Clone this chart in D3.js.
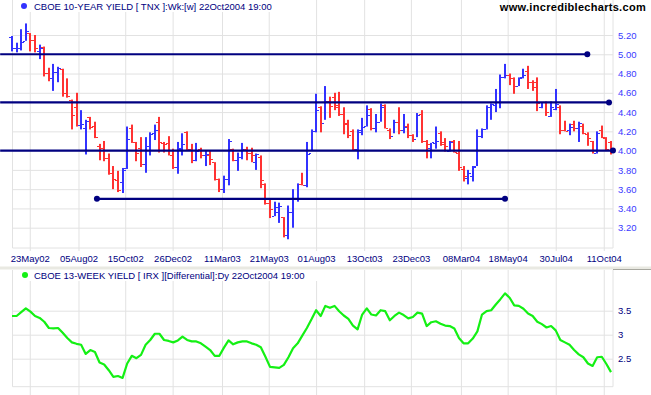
<!DOCTYPE html>
<html><head><meta charset="utf-8">
<script src="https://cdn.jsdelivr.net/npm/d3@7"></script>
<style>
body{margin:0;background:#fff}
svg{display:block}
text{font-family:"Liberation Sans",Arial,sans-serif}
</style>
</head><body>
<svg id="c" width="651" height="395"></svg>
<script>
// ---------- data ----------
const firstWeek = "2002-04-26";   // weekly bars, week ending Friday
const tickLabels = ["23May02","05Aug02","15Oct02","26Dec02","11Mar03","21May03","01Aug03","13Oct03","23Dec03","08Mar04","18May04","30Jul04","11Oct04"];
const tnxTicks = [3.2,3.4,3.6,3.8,4.0,4.2,4.4,4.6,4.8,5.0,5.2];
const irxTicks = [2.5,3,3.5];

const high = [5.19,5.12,5.26,5.32,5.22,5.20,5.10,5.08,4.86,4.90,
4.87,4.85,4.75,4.53,4.60,4.42,4.32,4.35,4.30,4.07,
4.10,3.97,3.84,3.79,3.82,4.25,4.27,4.09,4.14,4.14,
4.19,4.27,4.35,4.09,4.15,4.02,4.09,4.18,4.20,4.07,
4.08,4.03,4.00,4.00,3.88,3.71,3.74,4.12,4.02,3.98,
4.08,4.04,4.03,3.97,3.95,3.66,3.49,3.47,3.46,3.31,
3.43,3.60,3.66,3.77,4.09,4.22,4.59,4.46,4.67,4.56,
4.60,4.61,4.45,4.32,4.22,4.22,4.34,4.47,4.44,4.38,
4.49,4.48,4.23,4.32,4.45,4.38,4.28,4.17,4.39,4.42,
4.11,4.08,4.25,4.20,4.13,4.10,4.11,4.10,3.84,3.80,
3.84,4.22,4.23,4.47,4.49,4.64,4.79,4.90,4.80,4.76,
4.76,4.85,4.88,4.73,4.76,4.50,4.51,4.51,4.64,4.47,
4.31,4.28,4.31,4.30,4.28,4.19,4.10,4.20,4.26,4.14,4.10];
const low = [5.03,5.02,5.04,5.14,5.03,5.02,4.95,4.77,4.72,4.62,
4.71,4.56,4.55,4.22,4.25,4.22,3.96,4.22,4.13,3.90,
3.89,3.75,3.60,3.57,3.56,3.81,4.08,3.89,3.83,3.77,
3.95,4.11,3.98,3.98,3.95,3.81,3.76,3.95,4.00,3.87,
3.89,3.92,3.84,3.85,3.69,3.57,3.56,3.64,3.89,3.79,
3.91,3.90,3.88,3.80,3.61,3.44,3.30,3.32,3.25,3.10,
3.08,3.20,3.47,3.64,3.62,4.00,4.19,4.19,4.32,4.34,
4.42,4.36,4.17,4.13,4.00,3.91,4.16,4.25,4.21,4.19,
4.30,4.23,4.12,4.18,4.17,4.18,4.13,4.09,4.14,4.08,
3.92,3.92,4.02,4.05,3.99,3.99,3.98,3.79,3.68,3.65,
3.68,3.84,4.13,4.22,4.32,4.40,4.44,4.75,4.68,4.59,
4.67,4.75,4.64,4.62,4.41,4.44,4.36,4.35,4.42,4.17,
4.20,4.16,4.20,4.09,4.17,4.05,3.97,3.97,4.13,4.00,3.96];
const open = [5.18,5.06,5.07,5.14,5.22,5.15,5.03,5.08,4.81,4.75,
4.82,4.85,4.60,4.53,4.45,4.27,4.23,4.35,4.26,4.05,
4.03,3.92,3.77,3.69,3.67,3.82,4.23,4.09,4.03,3.86,
4.05,4.18,4.30,4.08,4.08,3.95,3.83,4.03,4.19,4.02,
3.90,4.02,3.95,3.95,3.88,3.71,3.60,3.71,4.02,3.90,
3.93,4.02,3.98,3.88,3.93,3.65,3.46,3.32,3.36,3.31,
3.12,3.36,3.51,3.65,3.64,3.98,4.20,4.45,4.29,4.52,
4.56,4.47,4.38,4.28,4.20,4.02,4.21,4.26,4.43,4.23,
4.30,4.47,4.21,4.15,4.30,4.21,4.26,4.16,4.12,4.38,
4.10,4.03,4.08,4.18,4.09,4.00,4.10,3.98,3.81,3.72,
3.74,3.84,4.15,4.22,4.45,4.47,4.50,4.76,4.78,4.75,
4.67,4.76,4.83,4.71,4.71,4.45,4.50,4.36,4.43,4.45,
4.21,4.21,4.28,4.23,4.26,4.17,4.10,3.98,4.21,4.13,4.09];
const close = [5.06,5.07,5.13,5.24,5.15,5.06,5.07,4.81,4.75,4.82,
4.86,4.60,4.57,4.37,4.27,4.28,4.31,4.24,4.14,4.03,
3.92,3.77,3.71,3.59,3.80,4.12,4.09,3.98,3.86,4.05,
4.17,4.21,4.09,4.07,3.95,3.83,4.02,4.07,4.02,3.90,
4.00,3.95,3.97,3.91,3.71,3.60,3.71,4.10,3.90,3.93,
4.02,3.98,3.95,3.97,3.69,3.46,3.39,3.41,3.43,3.12,
3.36,3.51,3.65,3.64,3.97,4.20,4.42,4.29,4.51,4.46,
4.45,4.38,4.29,4.16,4.02,4.19,4.24,4.37,4.23,4.30,
4.45,4.23,4.15,4.30,4.21,4.24,4.16,4.12,4.37,4.10,
4.07,4.09,4.10,4.07,4.05,4.09,3.99,3.83,3.74,3.77,
3.83,4.15,4.22,4.45,4.48,4.50,4.76,4.78,4.75,4.67,
4.75,4.79,4.71,4.66,4.49,4.50,4.40,4.45,4.48,4.21,
4.20,4.24,4.23,4.29,4.18,4.13,3.98,4.18,4.14,4.02,4.00];

const irx = [3.39,3.39,3.47,3.55,3.48,3.39,3.35,3.27,3.14,3.13,
3.14,3.04,2.93,2.84,2.81,2.79,2.60,2.68,2.64,2.42,
2.38,2.26,2.12,2.14,2.10,2.40,2.56,2.51,2.58,2.79,
2.89,3.02,3.02,2.89,2.87,2.84,2.88,2.96,2.89,2.86,
2.86,2.82,2.75,2.68,2.56,2.56,2.73,2.88,2.80,2.84,
2.86,2.86,2.82,2.79,2.74,2.54,2.33,2.32,2.31,2.37,
2.53,2.72,2.82,2.98,3.14,3.32,3.51,3.39,3.60,3.56,
3.60,3.49,3.40,3.33,3.19,3.11,3.42,3.55,3.42,3.40,
3.51,3.49,3.30,3.39,3.46,3.41,3.34,3.37,3.46,3.44,
3.18,3.26,3.28,3.23,3.19,3.18,3.13,2.93,2.82,2.82,
2.92,3.07,3.42,3.49,3.51,3.63,3.74,3.86,3.77,3.61,
3.60,3.54,3.44,3.39,3.27,3.22,3.15,3.18,3.09,2.89,
2.84,2.79,2.68,2.59,2.53,2.40,2.35,2.53,2.54,2.39,2.22];

// horizontal trend lines (support / resistance)
const levelValues = [5.00, 4.50, 4.00, 3.50];
const levelStart  = ["2002-04-08","2002-04-08","2002-04-08","2002-09-02"];
const levelEnd    = ["2004-09-16","2004-10-19","2004-10-25","2004-05-14"];
const levelStartDot = [false,false,false,true];

// ---------- drawing ----------
const svg = d3.select("#c");
const parseISO = d3.timeParse("%Y-%m-%d");
const parseTick = d3.timeParse("%d%b%y");
const d0 = parseISO(firstWeek);
const dates = d3.range(close.length).map(i => d3.timeDay.offset(d0, 7*i));
const tickDates = tickLabels.map(parseTick);

const L = 12.5, R = 613;
const x = d3.scaleTime().domain([dates[0], dates[dates.length-1]]).range([12, 611]);
const yT = d3.scaleLinear().domain([3.2, 5.2]).range([227.7, 35]);
const yB = d3.scaleLinear().domain([2.5, 3.5]).range([358.7, 310.7]);

const gridC = "#e2e2e2";
const navy = "#000080";
const upC = "#3232ff", dnC = "#ff3232";

// ---- top panel grid ----
const topBottom = 248;
svg.append("g").attr("transform", `translate(0,${topBottom+3})`)
  .call(d3.axisTop(x).tickValues(tickDates).tickFormat("").tickSizeInner(topBottom+3).tickSizeOuter(0))
  .call(g => g.select(".domain").remove())
  .call(g => g.selectAll("line").attr("stroke", gridC));
svg.append("g").attr("transform", `translate(${R},0)`)
  .call(d3.axisLeft(yT).tickValues(tnxTicks).tickFormat("").tickSizeInner(R-L).tickSizeOuter(0))
  .call(g => g.select(".domain").remove())
  .call(g => g.selectAll("line").attr("stroke", gridC));
// borders
svg.append("path").attr("d", `M${L},0V${topBottom}H${R}V0`).attr("fill","none").attr("stroke", gridC);

// y labels (top)
svg.append("g").attr("transform", `translate(${R},0)`)
  .call(d3.axisRight(yT).tickValues(tnxTicks).tickFormat(d3.format(".2f")).tickSize(0).tickPadding(5))
  .call(g => g.select(".domain").remove())
  .call(g => g.selectAll("text").attr("fill", "#3a3aff").style("font-size","9.5px").attr("dy","0.33em"));

// x labels
svg.append("g").attr("transform", `translate(0,${topBottom})`)
  .call(d3.axisBottom(x).tickValues(tickDates).tickFormat((d,i)=>tickLabels[i]).tickSize(0).tickPadding(7))
  .call(g => g.select(".domain").remove())
  .call(g => g.selectAll("text").attr("fill", navy).style("font-size","9.5px"));

// ---- bars ----
const bars = svg.append("g");
dates.forEach((d,i) => {
  const cx = Math.round(x(d));
  const col = (i === 0 ? close[i] < open[i] : close[i] >= close[i-1]) ? upC : dnC;
  const yh = yT(high[i]), yl = yT(low[i]);
  bars.append("rect").attr("x", cx-1).attr("y", yh).attr("width", 2).attr("height", Math.max(1, yl-yh)).attr("fill", col);
  bars.append("rect").attr("x", cx-3).attr("y", Math.round(yT(open[i]))).attr("width", 2).attr("height", 1).attr("fill", col);
  bars.append("rect").attr("x", cx+1).attr("y", Math.round(yT(close[i]))).attr("width", 2).attr("height", 1).attr("fill", col);
});

// ---- trend lines ----
const tl = svg.append("g");
levelValues.forEach((v,i) => {
  const xs = x(parseISO(levelStart[i])), xe = x(parseISO(levelEnd[i])), yy = yT(v);
  tl.append("line").attr("x1", xs).attr("x2", xe).attr("y1", yy).attr("y2", yy)
    .attr("stroke", navy).attr("stroke-width", 2.2);
  tl.append("circle").attr("cx", xe).attr("cy", yy).attr("r", 3).attr("fill", navy);
  if (levelStartDot[i]) tl.append("circle").attr("cx", xs).attr("cy", yy).attr("r", 3).attr("fill", navy);
});

// top title
svg.append("rect").attr("x", 17).attr("y", 0).attr("width", 262).attr("height", 12).attr("fill", "#fff");
svg.append("circle").attr("cx", 24).attr("cy", 6).attr("r", 3).attr("fill", "#3333ff");
svg.append("text").attr("x", 34).attr("y", 9.5).attr("fill", navy).style("font-size","9.5px")
  .text("CBOE 10-YEAR YIELD [ TNX ]:Wk:[w]  22Oct2004 19:00");
svg.append("text").attr("x", 646).attr("y", 11).attr("text-anchor","end").attr("fill","#000")
  .style("font-size","11px").style("font-weight","bold").style("letter-spacing","0.3px")
  .text("www.incrediblecharts.com");

// ---- separator ----
svg.append("rect").attr("x", 0).attr("y", 266.5).attr("width", 651).attr("height", 3).attr("fill", "#e9e9e2");
svg.append("line").attr("x1", R).attr("x2", 651).attr("y1", 269.5).attr("y2", 269.5).attr("stroke", "#a8a8a0");

// ---- bottom panel ----
const bTop = 270, bBottom = 386.7;
svg.append("g").attr("transform", `translate(0,${bTop})`)
  .call(d3.axisBottom(x).tickValues(tickDates).tickFormat("").tickSizeInner(395-bTop).tickSizeOuter(0))
  .call(g => g.select(".domain").remove())
  .call(g => g.selectAll("line").attr("stroke", gridC));
svg.append("g").attr("transform", `translate(${R},0)`)
  .call(d3.axisLeft(yB).tickValues(irxTicks).tickFormat("").tickSizeInner(R-L).tickSizeOuter(0))
  .call(g => g.select(".domain").remove())
  .call(g => g.selectAll("line").attr("stroke", gridC));
svg.append("path").attr("d", `M${L},${bTop}V${bBottom}H${R}V${bTop}`).attr("fill","none").attr("stroke", gridC);
svg.append("g").attr("transform", `translate(${R},0)`)
  .call(d3.axisRight(yB).tickValues(irxTicks).tickFormat(d => String(d)).tickSize(0).tickPadding(5))
  .call(g => g.select(".domain").remove())
  .call(g => g.selectAll("text").attr("fill", navy).style("font-size","9.5px").attr("dy","0.33em"));

svg.append("path").datum(irx)
  .attr("d", d3.line().x((d,i) => x(dates[i])).y(d => yB(d)))
  .attr("fill","none").attr("stroke","#14f014").attr("stroke-width",2.2).attr("stroke-linejoin","round");

svg.append("rect").attr("x", 17).attr("y", 270).attr("width", 302).attr("height", 11).attr("fill", "#fff");
svg.append("circle").attr("cx", 25).attr("cy", 275).attr("r", 3).attr("fill", "#14f014");
svg.append("text").attr("x", 34).attr("y", 278.5).attr("fill", navy).style("font-size","9.5px")
  .text("CBOE 13-WEEK YIELD [ IRX ][Differential]:Dy  22Oct2004 19:00");
</script>
</body></html>
